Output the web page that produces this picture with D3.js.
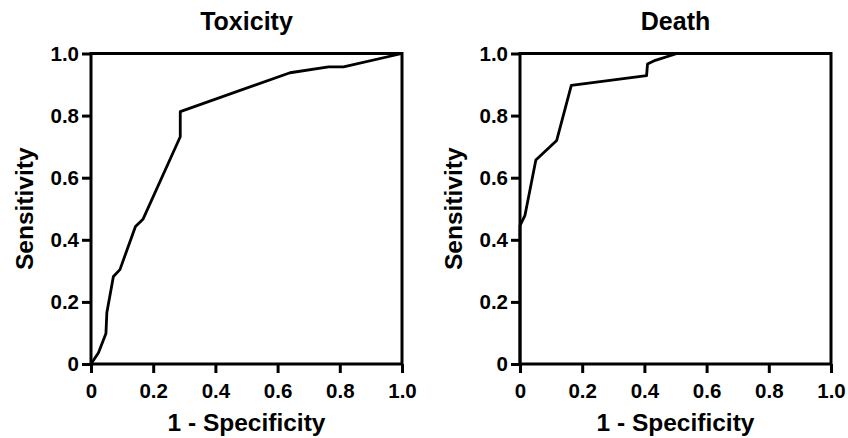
<!DOCTYPE html>
<html>
<head>
<meta charset="utf-8">
<script src="https://cdn.jsdelivr.net/npm/d3@7"></script>
<style>
  body { margin: 0; background: #fff; }
  text { font-family: "Liberation Sans", Arial, sans-serif; font-weight: bold; fill: #000; }
</style>
</head>
<body>
<div id="vis"></div>
<script>

// ROC points (1 - specificity, sensitivity)
var toxicityFpr = [0, 0.024, 0.048, 0.051, 0.072, 0.093, 0.143, 0.167, 0.287, 0.287, 0.64, 0.764, 0.812, 1.0];
var toxicityTpr = [0, 0.036, 0.098, 0.166, 0.282, 0.304, 0.443, 0.466, 0.732, 0.813, 0.938, 0.957, 0.957, 1.0];

var deathFpr = [0, 0, 0.016, 0.051, 0.118, 0.165, 0.407, 0.41, 0.435, 0.505, 1.0];
var deathTpr = [0, 0.446, 0.479, 0.657, 0.72, 0.897, 0.929, 0.966, 0.978, 1.0, 1.0];

var tickValues = [0, 0.2, 0.4, 0.6, 0.8, 1.0];
var panelTitles = ['Toxicity', 'Death'];
var xLabel = '1 - Specificity';
var yLabel = 'Sensitivity';

var width = 848;
var height = 438;

var panels = [
    { left: 91,  fpr: toxicityFpr, tpr: toxicityTpr, title: panelTitles[0] },
    { left: 520, fpr: deathFpr,    tpr: deathTpr,    title: panelTitles[1] }
];

var plotW = 311;
var plotTop = 53.5;
var plotBottom = 364;

var svg = d3.select('#vis')
    .append('svg')
    .attr('width', width)
    .attr('height', height);

function tickFormat(d) {
    return d === 0 ? '0' : d3.format('.1f')(d);
}

function drawPanel(p) {
    var x = d3.scaleLinear().domain([0, 1]).range([p.left, p.left + plotW]);
    var y = d3.scaleLinear().domain([0, 1]).range([plotBottom, plotTop]);

    var g = svg.append('g');

    // x axis
    var xAxis = g.append('g')
        .attr('transform', 'translate(0,' + plotBottom + ')')
        .call(d3.axisBottom(x).tickValues(tickValues).tickFormat(tickFormat)
            .tickSize(9).tickSizeOuter(0).tickPadding(10));

    // y axis
    var yAxis = g.append('g')
        .attr('transform', 'translate(' + p.left + ',0)')
        .call(d3.axisLeft(y).tickValues(tickValues).tickFormat(tickFormat)
            .tickSize(9).tickSizeOuter(0).tickPadding(3));

    [xAxis, yAxis].forEach(function (a) {
        a.select('.domain').remove();
        a.selectAll('line').attr('stroke', '#000').attr('stroke-width', 3);
        a.selectAll('text')
            .style('font-size', '20.5px')
            .style('font-family', '"Liberation Sans", Arial, sans-serif')
            .style('font-weight', 'bold')
            .attr('fill', '#000');
    });

    // frame
    g.append('rect')
        .attr('x', x(0))
        .attr('y', y(1))
        .attr('width', x(1) - x(0))
        .attr('height', y(0) - y(1))
        .attr('fill', 'none')
        .attr('stroke', '#000')
        .attr('stroke-width', 3);

    var pts = p.fpr.map(function (d, i) { return [d, p.tpr[i]]; });

    var line = d3.line()
        .x(function (d) { return x(d[0]); })
        .y(function (d) { return y(d[1]); });

    g.append('path')
        .datum(pts)
        .attr('d', line)
        .attr('fill', 'none')
        .attr('stroke', '#000')
        .attr('stroke-width', 2.8)
        .attr('stroke-linejoin', 'round');

    var cx = (x(0) + x(1)) / 2;

    g.append('text')
        .attr('x', cx)
        .attr('y', 30)
        .attr('text-anchor', 'middle')
        .style('font-size', '25px')
        .text(p.title);

    g.append('text')
        .attr('x', cx)
        .attr('y', 431)
        .attr('text-anchor', 'middle')
        .style('font-size', '24.5px')
        .text(xLabel);

    g.append('text')
        .attr('transform', 'translate(' + (p.left - 58) + ',' + ((plotTop + plotBottom) / 2) + ') rotate(-90)')
        .attr('text-anchor', 'middle')
        .style('font-size', '24.5px')
        .text(yLabel);
}

panels.forEach(drawPanel);

</script>
</body>
</html>
